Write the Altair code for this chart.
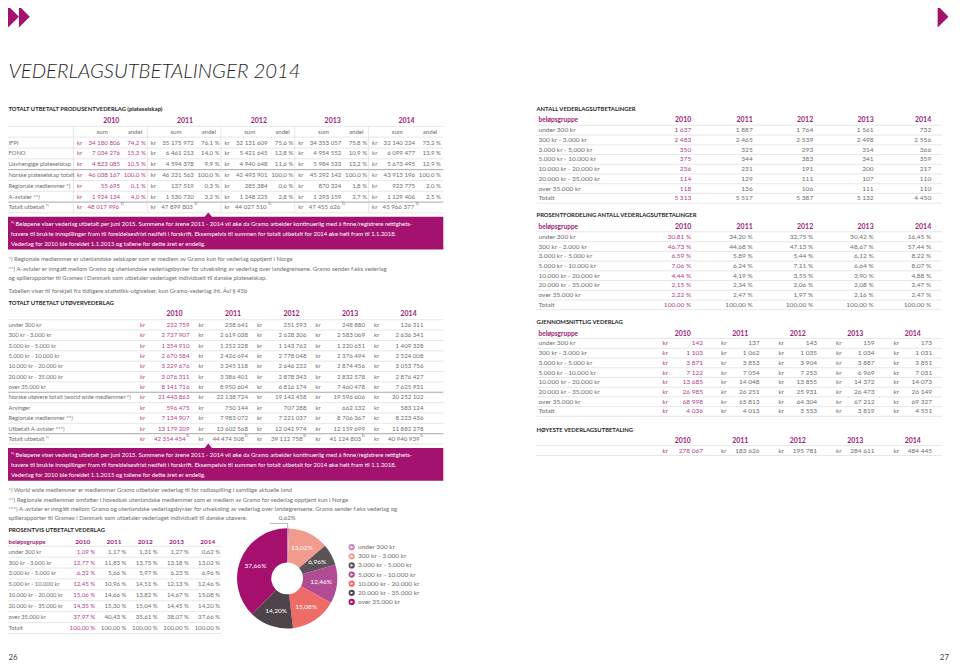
import altair as alt
import pandas as pd

# ============================ DATA ============================
years = ["2010", "2011", "2012", "2013", "2014"]

prod_labels = ["IFPI", "FONO", "Uavhengige plateselskap", "Norske plateselskap totalt",
               "Regionale medlemmer *)", "A-avtaler **)", "Totalt utbetalt ¹⁾"]
prod_sum_2010 = [34180806, 7034276, 4823085, 46038167, 55695, 1924134, 48017996]
prod_sum_2011 = [35175972, 6461213, 4594378, 46231563, 137519, 1530720, 47899803]
prod_sum_2012 = [32131609, 5421645, 4940648, 42493901, 285384, 1248225, 44027510]
prod_sum_2013 = [34353057, 4954552, 5984533, 45292142, 870324, 1293159, 47455626]
prod_sum_2014 = [32140224, 6099477, 5673495, 43913196, 923775, 1129406, 45966377]
prod_andel_2010 = [74.2, 15.3, 10.5, 100.0, 0.1, 4.0]
prod_andel_2011 = [76.1, 14.0, 9.9, 100.0, 0.3, 3.2]
prod_andel_2012 = [75.6, 12.8, 11.6, 100.0, 0.6, 2.8]
prod_andel_2013 = [75.8, 10.9, 13.2, 100.0, 1.8, 2.7]
prod_andel_2014 = [73.2, 13.9, 12.9, 100.0, 2.0, 2.5]

groups = ["under 300 kr", "300 kr - 3.000 kr", "3.000 kr - 5.000 kr", "5.000 kr - 10.000 kr",
          "10.000 kr - 20.000 kr", "20.000 kr - 35.000 kr", "over 35.000 kr"]

utov_labels = groups + ["Norske utøvere totalt (world wide medlemmer *)", "Arvinger",
                        "Regionale medlemmer **)", "Utbetalt A-avtaler ***)", "Totalt utbetalt ¹⁾"]
utov_2010 = [232759, 2737907, 1354910, 2670584, 3229676, 3076311, 8141716, 21443863, 596475, 7134907, 13179209, 42354454]
utov_2011 = [258641, 2619038, 1252228, 2426694, 3245118, 3386401, 8950604, 22138724, 750144, 7983072, 13602568, 44474508]
utov_2012 = [251593, 2628306, 1143762, 2778048, 2646232, 2878343, 6816174, 19142458, 707288, 7221037, 12041974, 39112758]
utov_2013 = [248880, 2583069, 1220651, 2376494, 2874456, 2832578, 7460478, 19596606, 662132, 8706367, 12159699, 41124803]
utov_2014 = [126311, 2636341, 1409328, 2524008, 3053756, 2876427, 7625931, 20252102, 583124, 8223436, 11882278, 40940939]

pct_2010 = [1.09, 12.77, 6.32, 12.45, 15.06, 14.35, 37.97, 100.00]
pct_2011 = [1.17, 11.83, 5.66, 10.96, 14.66, 15.30, 40.43, 100.00]
pct_2012 = [1.31, 13.73, 5.97, 14.51, 13.82, 15.04, 35.61, 100.00]
pct_2013 = [1.27, 13.18, 6.23, 12.13, 14.67, 14.45, 38.07, 100.00]
pct_2014 = [0.62, 13.02, 6.96, 12.46, 15.08, 14.20, 37.66, 100.00]

antall_2010 = [1637, 2483, 350, 375, 236, 114, 118, 5313]
antall_2011 = [1887, 2465, 325, 344, 231, 129, 136, 5517]
antall_2012 = [1764, 2539, 293, 383, 191, 111, 106, 5387]
antall_2013 = [1561, 2498, 314, 341, 200, 107, 111, 5132]
antall_2014 = [732, 2556, 366, 359, 217, 110, 110, 4450]

fordeling_2010 = [30.81, 46.73, 6.59, 7.06, 4.44, 2.15, 2.22, 100.00]
fordeling_2011 = [34.20, 44.68, 5.89, 6.24, 4.19, 2.34, 2.47, 100.00]
fordeling_2012 = [32.75, 47.13, 5.44, 7.11, 3.55, 2.06, 1.97, 100.00]
fordeling_2013 = [30.42, 48.67, 6.12, 6.64, 3.90, 2.08, 2.16, 100.00]
fordeling_2014 = [16.45, 57.44, 8.22, 8.07, 4.88, 2.47, 2.47, 100.00]

snitt_2010 = [142, 1103, 3871, 7122, 13685, 26985, 68998, 4036]
snitt_2011 = [137, 1062, 3853, 7054, 14048, 26251, 65813, 4013]
snitt_2012 = [143, 1035, 3904, 7253, 13855, 25931, 64304, 3553]
snitt_2013 = [159, 1034, 3887, 6969, 14372, 26473, 67212, 3819]
snitt_2014 = [173, 1031, 3851, 7031, 14073, 26149, 69327, 4551]

hoyeste = [278067, 183626, 195781, 284611, 484445]

pie_labels = groups
pie_values = pct_2014[:7]

box_lines = [
    "¹⁾ Beløpene viser vederlag utbetalt per juni 2015. Summene for årene 2011 - 2014 vil øke da Gramo arbeider kontinuerlig med å finne/registrere rettighets-",
    "havere til brukte innspillinger fram til foreldelsesfrist nedfelt i forskrift. Eksempelvis til summen for totalt utbetalt for 2014 øke helt fram til 1.1.2018.",
    "Vederlag for 2010 ble foreldet 1.1.2015 og tallene for dette året er endelig.",
]
notes1 = [
    "*) Regionale medlemmer er utenlandske selskaper som er medlem av Gramo kun for vederlag opptjent i Norge",
    "**) A-avtaler er inngått mellom Gramo og utenlandske vederlagsbyråer for utveksling av vederlag over landegrensene.  Gramo sender f.eks vederlag",
    "og spillerapporter til Gramex i Danmark som utbetaler vederlaget individuelt til danske plateselskap.",
]
tabellen = "Tabellen viser til forskjell fra tidligere statistikk-utgivelser, kun Gramo-vederlag iht. Åvl § 45b"
notes2 = [
    "*) World wide medlemmer er medlemmer Gramo utbetaler vederlag til for radiospilling i samtlige aktuelle land",
    "**) Regionale medlemmer omfatter i hovedsak utenlandske medlemmer som er medlem av Gramo for vederlag opptjent kun i Norge",
    "***) A-avtaler er inngått mellom Gramo og utenlandske vederlagsbyråer for utveksling av vederlag over landegrensene. Gramo sender f.eks vederlag og",
    "spillerapporter til Gramex i Danmark som utbetaler vederlaget individuelt til danske utøvere.",
]

# ============================ STYLE ============================
MAG = "#a3126f"
YEARC = "#9c1c77"
C2010 = "#b3418c"
GRAY = "#6e6e6e"
DARK = "#1e1e1e"
LINE = "#d6d6d6"
LINE2 = "#a8a8a8"
FONT = "Lato"
pie_colors = ["#c98bc0", "#f29b8f", "#5b5358", "#b14b94", "#ee6c68", "#4d444a", "#a5106f"]

BS = 6.2    # left body size
LS = 5.85   # left table label size
NS = 6.0    # notes size
HS = 5.9    # heading size
YS = 7.0    # year header size
RS = 6.6    # right body size

M = 8
PW, PH = 960, 665
XS = alt.Scale(domain=[M, PW], nice=False, zero=False)
YS_ = alt.Scale(domain=[M, PH], nice=False, zero=False, reverse=True)


def fnum(v):
    return f"{v:,}".replace(",", " ")


def fp1(v):
    return f"{v:.1f} %".replace(".", ",")


def fp2(v):
    return f"{v:.2f} %".replace(".", ",")


T, R, B, P = [], [], [], []


def txt(x, y, s, size=BS, color=GRAY, align="left", weight=400, style="normal", font=FONT):
    T.append(dict(x=x, y=y, t=s, size=size, color=color, align=align, weight=weight, style=style, font=font))


def rule(x1, y1, x2, y2, color=LINE, w=0.6):
    R.append(dict(x=x1, y=y1, x2=x2, y2=y2, color=color, w=w))


def point(x, y, shape, size, color):
    P.append(dict(x=x, y=y, shape=shape, size=size, color=color))


LX = 8.5
LR = 447
TRI_R = "M-0.5,-1L0.5,0L-0.5,1Z"
NOTCH = "M-1,0.6L0,-0.6L1,0.6Z"

# ---- decorations / title ----
point(13.5, 14, TRI_R, 484, MAG)
point(24.5, 14, TRI_R, 484, MAG)
point(951, 14, TRI_R, 484, MAG)
txt(LX, 69.5, "VEDERLAGSUTBETALINGER 2014", size=20.5, color=DARK, weight=300, style="italic",
    font="Lato Light, Lato")
txt(LX, 661, "26", size=8, color="#444444")
txt(957, 661, "27", size=8, color="#444444", align="right")

# ---- table 1: produsentvederlag ----
txt(LX, 107, "TOTALT UTBETALT PRODUSENTVEDERLAG (plateselskap)", size=HS, color=DARK, weight=700)
G0, GW = 75, 74.4
RH1 = 10.9
SUBY, ROW0 = 130, 141
sums = [prod_sum_2010, prod_sum_2011, prod_sum_2012, prod_sum_2013, prod_sum_2014]
ands = [prod_andel_2010, prod_andel_2011, prod_andel_2012, prod_andel_2013, prod_andel_2014]
for i, lab in enumerate(prod_labels):
    txt(LX, ROW0 + i * RH1, lab, size=LS)
for j, yr in enumerate(years):
    s = G0 + j * GW
    col = C2010 if j == 0 else GRAY
    txt(s + GW / 2, 119, yr, size=YS, color=YEARC, align="center", weight=700)
    txt(s + 28, SUBY, "sum", align="center")
    txt(s + 61, SUBY, "andel", align="center")
    for i in range(7):
        y = ROW0 + i * RH1
        txt(s + 2.5, y, "kr", color=col)
        if i < 6:
            txt(s + 46, y, fnum(sums[j][i]), color=col, align="right")
            txt(s + 72, y, fp1(ands[j][i]), color=col, align="right")
        else:
            txt(s + 45, y, fnum(sums[j][i]), color=col, align="right")
            txt(s + 46.5, y - 1, "¹⁾", color=col)
top1 = SUBY - RH1 / 2
bot1 = ROW0 + 6 * RH1 + RH1 / 2
rule(M, top1, LR, top1)
rule(M, SUBY + RH1 / 2, LR, SUBY + RH1 / 2)
for i in range(7):
    yb = ROW0 + i * RH1 + RH1 / 2
    if i in (2, 5):
        rule(M, yb, LR, yb, LINE2, 1.0)
    else:
        rule(M, yb, LR, yb)
for j in range(5):
    xv = G0 + j * GW - 1
    rule(xv, top1, xv, bot1)


def note_box(top):
    B.append(dict(x=M, x2=LR, y=top, y2=top + 33))
    point(210, top - 2.2, NOTCH, 60, MAG)
    for k, line in enumerate(box_lines):
        txt(11, top + 7 + k * 10, line, size=NS, color="white")


note_box(bot1 + 4)
for k, line in enumerate(notes1):
    txt(LX, 258 + k * 10, line, size=NS)
txt(LX, 291, tabellen, size=NS)

# ---- table 2: utøvervederlag ----
txt(LX, 303, "TOTALT UTBETALT UTØVERVEDERLAG", size=HS, color=DARK, weight=700)
U0 = 324.8
RH2 = 10.45
KR2 = [141 + 59 * j for j in range(5)]
utov = [utov_2010, utov_2011, utov_2012, utov_2013, utov_2014]
for i, lab in enumerate(utov_labels):
    txt(LX, U0 + i * RH2, lab, size=LS)
for j, yr in enumerate(years):
    k = KR2[j]
    r = k + 50
    col = C2010 if j == 0 else GRAY
    txt(r - 15, 314, yr, size=YS, color=YEARC, align="center", weight=700)
    for i in range(12):
        y = U0 + i * RH2
        txt(k, y, "kr", color=col)
        if i < 11:
            txt(r, y, fnum(utov[j][i]), color=col, align="right")
        else:
            txt(r - 4, y, fnum(utov[j][i]), color=col, align="right")
            txt(r - 3.5, y - 1, "¹⁾", color=col)
rule(M, U0 - RH2 / 2, LR, U0 - RH2 / 2)
for i in range(12):
    yb = U0 + i * RH2 + RH2 / 2
    if i in (6, 10):
        rule(M, yb, LR, yb, LINE2, 1.0)
    else:
        rule(M, yb, LR, yb)
bot2 = U0 + 11 * RH2 + RH2 / 2
note_box(bot2 + 4)
for k, line in enumerate(notes2):
    txt(LX, 491.5 + k * 9.5, line, size=NS)

# ---- table 3: prosentvis ----
txt(LX, 532, "PROSENTVIS UTBETALT VEDERLAG", size=HS, color=DARK, weight=700)
P0 = 553.5
RH3 = 11.0
RE = [96, 127.5, 159, 190.5, 222]
pcts = [pct_2010, pct_2011, pct_2012, pct_2013, pct_2014]
txt(LX, 543.5, "beløpsgruppe", size=BS, color=YEARC, weight=700)
for i, lab in enumerate(groups + ["Totalt"]):
    txt(LX, P0 + i * RH3, lab, size=LS)
for j, yr in enumerate(years):
    col = C2010 if j == 0 else GRAY
    txt(RE[j] - 5, 543.5, yr, size=BS + 0.3, color=YEARC, align="right", weight=700)
    for i in range(8):
        txt(RE[j], P0 + i * RH3, fp2(pcts[j][i]), color=col, align="right")
rule(M, P0 - RH3 / 2, 223, P0 - RH3 / 2)
for i in range(8):
    yb = P0 + i * RH3 + RH3 / 2
    rule(M, yb, 223, yb)

# ---- donut ----
PCX, PCY, R_OUT, R_IN = 289.5, 580.5, 50.5, 16
txt(281, 520, "0,62%", size=BS)
rule(272, 525, PCX + 0.5, 525, "#888888", 0.6)
rule(PCX + 0.5, 525, PCX + 0.5, PCY - R_OUT, "#888888", 0.6)
LEG0, LEGH = 549, 9.2
for i, lab in enumerate(pie_labels):
    ly = LEG0 + LEGH * i
    point(354.6, ly, "M-0.6,-0.75L0.9,0L-0.6,0.75Z", 14, "white")
    txt(361, ly, lab, size=RS)

# ---- right page tables ----
RX = 543
RL, RRt = 541, 950
RA = [697, 759, 820, 881, 939]
RH = 9.8


def simple_table(head_y, title, cols, fmt, hdr_y, row0):
    txt(RL, head_y, title, size=HS, color=DARK, weight=700)
    txt(RX, hdr_y, "beløpsgruppe", size=RS, color=YEARC, weight=700)
    for i, lab in enumerate(groups + ["Totalt"]):
        txt(RX, row0 + i * RH, lab, size=RS)
    for j, yr in enumerate(years):
        col = C2010 if j == 0 else GRAY
        txt(RA[j], hdr_y, yr, size=RS + 0.4, color=YEARC, align="right", weight=700)
        for i in range(8):
            txt(RA[j], row0 + i * RH, fmt(cols[j][i]), size=RS, color=col, align="right")
    rule(RL, hdr_y + RH / 2, RRt, hdr_y + RH / 2)
    for i in range(8):
        yb = row0 + i * RH + RH / 2
        rule(RL, yb, RRt, yb)


simple_table(107, "ANTALL VEDERLAGSUTBETALINGER",
             [antall_2010, antall_2011, antall_2012, antall_2013, antall_2014], fnum, 118.5, 128.5)
simple_table(214, "PROSENTFORDELING ANTALL VEDERLAGSUTBETALINGER",
             [fordeling_2010, fordeling_2011, fordeling_2012, fordeling_2013, fordeling_2014], fp2, 226, 236)

KC = [668, 727, 785, 843, 901]
RC = [709, 766, 824, 882, 940]
txt(RL, 321.5, "GJENNOMSNITTLIG VEDERLAG", size=HS, color=DARK, weight=700)
txt(RX, 333.5, "beløpsgruppe", size=RS, color=YEARC, weight=700)
snitt = [snitt_2010, snitt_2011, snitt_2012, snitt_2013, snitt_2014]
C0 = 343.5
for i, lab in enumerate(groups + ["Totalt"]):
    txt(RX, C0 + i * RH, lab, size=RS)
for j, yr in enumerate(years):
    col = C2010 if j == 0 else GRAY
    txt((KC[j] + RC[j]) / 2, 333.5, yr, size=RS + 0.4, color=YEARC, align="center", weight=700)
    for i in range(8):
        txt(KC[j], C0 + i * RH, "kr", size=RS, color=col)
        txt(RC[j], C0 + i * RH, fnum(snitt[j][i]), size=RS, color=col, align="right")
rule(RL, 333.5 + RH / 2, RRt, 333.5 + RH / 2)
for i in range(8):
    yb = C0 + i * RH + RH / 2
    rule(RL, yb, RRt, yb)

txt(RL, 431, "HØYESTE VEDERLAGSUTBETALING", size=HS, color=DARK, weight=700)
for j, yr in enumerate(years):
    col = C2010 if j == 0 else GRAY
    txt((KC[j] + RC[j]) / 2, 441.5, yr, size=RS + 0.4, color=YEARC, align="center", weight=700)
    txt(KC[j], 451.5, "kr", size=RS, color=col)
    txt(RC[j], 451.5, fnum(hoyeste[j]), size=RS, color=col, align="right")
rule(RL, 446.5, RRt, 446.5)
rule(RL, 456.5, RRt, 456.5)

# ============================ CHART ============================
X = lambda: alt.X("x:Q", scale=XS, axis=None)
Y = lambda: alt.Y("y:Q", scale=YS_, axis=None)

layers = []
bdf = pd.DataFrame(B)
layers.append(alt.Chart(bdf).mark_rect(color=MAG).encode(x=X(), x2="x2:Q", y=Y(), y2="y2:Q"))

rdf = pd.DataFrame(R)
for (co, w), g in rdf.groupby(["color", "w"]):
    layers.append(alt.Chart(g.reset_index(drop=True)).mark_rule(color=co, strokeWidth=float(w)).encode(
        x=X(), x2="x2:Q", y=Y(), y2="y2:Q"))

pie_df = pd.DataFrame({
    "cat": pie_labels,
    "v": pie_values,
    "idx": list(range(len(pie_labels))),
    "lab": ["" if i == 0 else f"{v:.2f}%".replace(".", ",") for i, v in enumerate(pie_values)],
})
pie_scale = alt.Scale(domain=pie_labels, range=pie_colors)
layers.append(alt.Chart(pie_df).mark_arc(innerRadius=R_IN, outerRadius=R_OUT).encode(
    theta=alt.Theta("v:Q", stack=True),
    color=alt.Color("cat:N", scale=pie_scale, legend=None),
    order=alt.Order("idx:Q", sort="ascending"),
    x=alt.value(PCX - M), y=alt.value(PCY - M)))
layers.append(alt.Chart(pie_df).mark_text(radius=34.5, font=FONT, fontSize=RS, color="white").encode(
    theta=alt.Theta("v:Q", stack=True),
    detail="cat:N",
    order=alt.Order("idx:Q", sort="ascending"),
    text="lab:N",
    x=alt.value(PCX - M), y=alt.value(PCY - M)))

leg_df = pd.DataFrame({"cat": pie_labels,
                       "x": [354.6] * len(pie_labels),
                       "y": [LEG0 + LEGH * i for i in range(len(pie_labels))]})
layers.append(alt.Chart(leg_df).mark_point(filled=True, shape="circle", size=40, opacity=1).encode(
    x=X(), y=Y(), color=alt.Color("cat:N", scale=pie_scale, legend=None)))

pdf = pd.DataFrame(P)
for (sh, sz, co), g in pdf.groupby(["shape", "size", "color"]):
    layers.append(alt.Chart(g.reset_index(drop=True)).mark_point(
        filled=True, shape=sh, size=float(sz), color=co, opacity=1, strokeWidth=0).encode(x=X(), y=Y()))

tdf = pd.DataFrame(T)
for (al, wt, st, co, sz, fo), g in tdf.groupby(["align", "weight", "style", "color", "size", "font"]):
    layers.append(alt.Chart(g.reset_index(drop=True)).mark_text(
        align=al, baseline="middle", font=fo, fontWeight=int(wt), fontStyle=st,
        color=co, fontSize=float(sz)).encode(x=X(), y=Y(), text="t:N"))

chart = alt.layer(*layers).properties(
    width=PW - M, height=PH - M, padding=0,
    autosize=alt.AutoSizeParams(type="none"),
    background="white",
).configure_view(stroke=None)

chart.save("out.html", embed_options={"renderer": "svg", "actions": False})
